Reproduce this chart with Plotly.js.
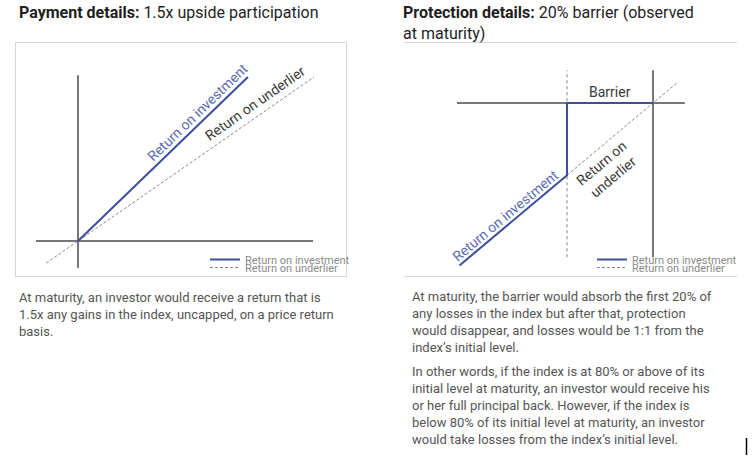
<!DOCTYPE html>
<html>
<head>
<meta charset="utf-8">
<script src="https://cdn.plot.ly/plotly-3.0.1.min.js"></script>
<style>html,body{margin:0;padding:0;background:#fff;}#chart{width:756px;height:463px;}</style>
</head>
<body>
<div id="chart"></div>
<script>
// ---- Left chart: 1.5x upside participation ----
const leftInvestmentX = [0, 0.72];
const leftInvestmentY = [0, 1.0];
const leftUnderlierX = [-0.135, 1.0];
const leftUnderlierY = [-0.135, 1.0];
const leftHAxisX = [-0.178, 0.996];
const leftHAxisY = [0, 0];
const leftVAxisX = [0, 0];
const leftVAxisY = [-0.165, 1.01];

// ---- Right chart: 20% barrier ----
const rightInvestmentX = [-0.45, -0.2, -0.2, 0];
const rightInvestmentY = [-0.45, -0.2, 0, 0];
const rightUnderlierX = [-0.2, 0.055];
const rightUnderlierY = [-0.2, 0.055];
const rightHAxisX = [-0.456, 0.074];
const rightHAxisY = [0, 0];
const rightVAxisX = [0, 0];
const rightVAxisY = [-0.427, 0.091];
const barrierLineX = [-0.2, -0.2];
const barrierLineY = [-0.427, 0.091];

const seriesNames = ["Return on investment", "Return on underlier"];

const titleLeft = "<b>Payment details:</b> 1.5x upside participation";
const titleRight = "<b>Protection details:</b> 20% barrier (observed<br>at maturity)";
const textLeft = "At maturity, an investor would receive a return that is<br>1.5x any gains in the index, uncapped, on a price return<br>basis.";
const textRight1 = "At maturity, the barrier would absorb the first 20% of<br>any losses in the index but after that, protection<br>would disappear, and losses would be 1:1 from the<br>index’s initial level.";
const textRight2 = "In other words, if the index is at 80% or above of its<br>initial level at maturity, an investor would receive his<br>or her full principal back. However, if the index is<br>below 80% of its initial level at maturity, an investor<br>would take losses from the index’s initial level.";

const W = 756, H = 463;
const px = v => v / W;
const py = v => 1 - v / H;

const BLUE = "#3d4f9a";
const BLUE_TXT = "#5b6bb0";
const AX = "#4a4a4a";
const GRAY = "#8a8a8a";

function axisLine(x, y, xa, ya, dash, color) {
  return {x: x, y: y, xaxis: xa, yaxis: ya, mode: "lines", showlegend: false, hoverinfo: "skip",
    line: {color: color || AX, width: 1.5, dash: dash || "solid"}};
}

const traces = [
  axisLine(leftHAxisX, leftHAxisY, "x", "y"),
  axisLine(leftVAxisX, leftVAxisY, "x", "y"),
  {x: leftUnderlierX, y: leftUnderlierY, xaxis: "x", yaxis: "y", mode: "lines", name: seriesNames[1],
    legend: "legend2", line: {color: GRAY, width: 1, dash: "3px,2px"}},
  {x: leftInvestmentX, y: leftInvestmentY, xaxis: "x", yaxis: "y", mode: "lines", name: seriesNames[0],
    legend: "legend", line: {color: BLUE, width: 2}},

  axisLine(rightHAxisX, rightHAxisY, "x2", "y2"),
  axisLine(rightVAxisX, rightVAxisY, "x2", "y2"),
  {x: barrierLineX, y: barrierLineY, xaxis: "x2", yaxis: "y2", mode: "lines", showlegend: false, hoverinfo: "skip",
    line: {color: "#999", width: 1.2, dash: "dot"}},
  {x: rightUnderlierX, y: rightUnderlierY, xaxis: "x2", yaxis: "y2", mode: "lines", name: seriesNames[1],
    legend: "legend4", line: {color: GRAY, width: 1, dash: "3px,2px"}},
  {x: rightInvestmentX, y: rightInvestmentY, xaxis: "x2", yaxis: "y2", mode: "lines", name: seriesNames[0],
    legend: "legend3", line: {color: BLUE, width: 2}}
];

function frameAxis(domain, range) {
  return {domain: domain, range: range, showgrid: false, zeroline: false, showticklabels: false, ticks: "",
    showline: true, mirror: true, linecolor: "#d6d6d6", linewidth: 1, fixedrange: true};
}

function leg(yPix, xLeftPix) {
  return {x: px(xLeftPix), xanchor: "left", y: py(yPix), yanchor: "middle", bgcolor: "rgba(0,0,0,0)",
    borderwidth: 0, itemwidth: 30, font: {family: "Roboto", size: 11, color: "#8a8a8a"}};
}

const txt = (text, x, y, size, color, extra) => Object.assign({
  text: text, xref: "paper", yref: "paper", x: px(x), y: py(y), xanchor: "left", yanchor: "top",
  showarrow: false, align: "left", font: {family: "Roboto", size: size, color: color}
}, extra || {});

const annotations = [
  txt(titleLeft, 17, 1, 16, "#1e1e1e"),
  txt(titleRight, 401, 1, 16, "#1e1e1e"),
  txt(textLeft, 17, 288, 13, "#555"),
  txt(textRight1, 410, 287, 13, "#555"),
  txt(textRight2, 410, 362, 13, "#555"),
  // in-chart labels
  {text: "Return on investment", xref: "x", yref: "y", x: 0.508, y: 0.787, showarrow: false, textangle: -44,
    font: {family: "Roboto", size: 14, color: BLUE_TXT}},
  {text: "Return on underlier", xref: "x", yref: "y", x: 0.752, y: 0.84, showarrow: false, textangle: -35,
    font: {family: "Roboto", size: 14, color: "#3a3a3a"}},
  {text: "Return on investment", xref: "x2", yref: "y2", x: -0.344, y: -0.313, showarrow: false, textangle: -40,
    font: {family: "Roboto", size: 14, color: BLUE_TXT}},
  {text: "Return on<br>underlier", xref: "x2", yref: "y2", x: -0.107, y: -0.185, showarrow: false, textangle: -40,
    font: {family: "Roboto", size: 14, color: "#3a3a3a"}},
  {text: "Barrier", xref: "x2", yref: "y2", x: -0.1, y: 0.030, showarrow: false,
    font: {family: "Roboto", size: 14, color: "#3a3a3a"}}
];

const layout = {
  width: W, height: H, margin: {l: 0, r: 0, t: 0, b: 0},
  paper_bgcolor: "#fff", plot_bgcolor: "#fff",
  font: {family: "Roboto"},
  xaxis: frameAxis([px(16), px(346)], [-0.2627, 1.1356]),
  yaxis: frameAxis([py(276), py(43)], [-0.2134, 1.2073]),
  xaxis2: frameAxis([px(404), px(737)], [-0.5791, 0.1953]),
  yaxis2: frameAxis([py(276), py(43)], [-0.4792, 0.1662]),
  legend: leg(259.5, 205),
  legend2: leg(267.5, 205),
  legend3: leg(259.5, 592),
  legend4: leg(267.5, 592),
  annotations: annotations,
  shapes: [
    {type: "line", xref: "paper", yref: "paper", x0: px(746.5), x1: px(746.5), y0: py(438), y1: py(455),
      line: {color: "#000", width: 1.5}}
  ]
};

Plotly.newPlot("chart", traces, layout, {staticPlot: true, displayModeBar: false});
</script>
</body>
</html>
